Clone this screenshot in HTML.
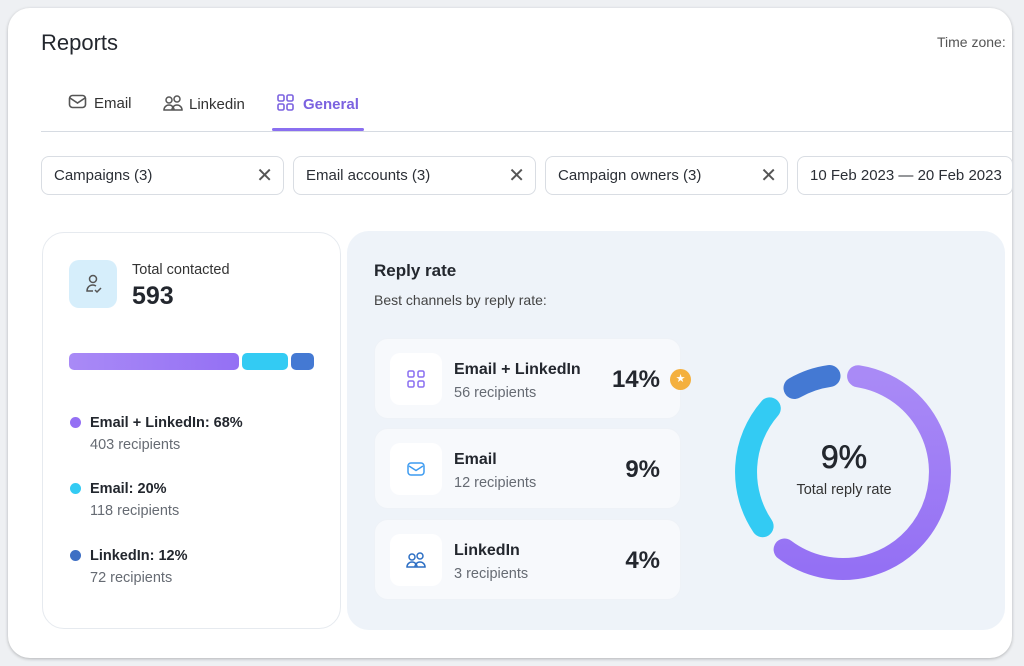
<!DOCTYPE html>
<html><head><meta charset="utf-8"><style>
*{margin:0;padding:0;box-sizing:border-box}
body{width:1024px;height:666px;background:#eef0f3;font-family:"Liberation Sans",sans-serif;color:#1f2328;position:relative;overflow:hidden}
.a{position:absolute}
.card{left:8px;top:8px;width:1004px;height:650px;background:#fff;border-radius:22px;box-shadow:0 1px 3px rgba(0,0,0,.25)}
.f{height:39px;top:156px;border:1px solid #d9dde3;border-radius:8px;font-size:15px;color:#2b2f36;padding:10px 12px;background:#fff}
.x{position:absolute;right:10px;top:6px;font-size:20px;color:#555}
.row{left:374px;width:307px;height:81px;background:#f7f9fc;border-radius:14px;border:1px solid #eef2f7}
.ib{position:absolute;left:15px;top:14px;width:52px;height:52px;background:#fff;border-radius:10px}
.t{position:absolute;left:79px;top:22px;font-size:16px;font-weight:bold;color:#23272e}
.s{position:absolute;left:79px;top:46px;font-size:14.5px;color:#666b73}
.p{position:absolute;right:20px;top:27px;font-size:24px;font-weight:bold;color:#23272e}
.lg{left:70px;font-size:14.5px}
.lg b{color:#23272e}
.lg span{display:block;margin-top:6px;color:#666b73;margin-left:20px}
.dot{display:inline-block;width:11px;height:11px;border-radius:50%;margin-right:9px;vertical-align:-1px}
</style></head><body>
<div class="a card"></div>
<div class="a" style="left:41px;top:30px;font-size:22px;color:#23272e">Reports</div>
<div class="a" style="left:937px;top:34px;font-size:14px;color:#555">Time zone:</div>
<div class="a" style="left:68px;top:94px;font-size:15px;color:#333">
<svg width="20" height="16" style="vertical-align:-2px;margin-right:6px"><rect x="1.5" y="1.5" width="16" height="12" rx="3" fill="none" stroke="#555" stroke-width="1.6"/><path d="M2 4l7.5 5 7.5-5" fill="none" stroke="#555" stroke-width="1.6"/></svg>Email</div>
<div class="a" style="left:163px;top:94px;font-size:15px;color:#333">
<svg width="20" height="18" style="vertical-align:-3px;margin-right:6px"><circle cx="6" cy="6" r="3" fill="none" stroke="#555" stroke-width="1.5"/><circle cx="14" cy="5" r="3" fill="none" stroke="#555" stroke-width="1.5"/><path d="M1 16a5 5 0 0 1 10 0zM9 16a5 5 0 0 1 10 0z" fill="none" stroke="#555" stroke-width="1.5"/></svg>Linkedin</div>
<div class="a" style="left:277px;top:94px;font-size:15px;color:#7b62e0;font-weight:bold">
<svg width="18" height="18" style="vertical-align:-3px;margin-right:8px" fill="none" stroke="#7b62e0" stroke-width="1.6"><rect x="1" y="1" width="6" height="6" rx="1.5"/><rect x="10" y="1" width="6" height="6" rx="1.5"/><rect x="1" y="10" width="6" height="6" rx="1.5"/><rect x="10" y="10" width="6" height="6" rx="1.5"/></svg>General</div>
<div class="a" style="left:41px;top:131px;width:971px;height:1px;background:#d6dbe2"></div>
<div class="a" style="left:272px;top:128px;width:92px;height:3px;background:#8a6ff0;border-radius:2px"></div>
<div class="a f" style="left:41px;width:243px">Campaigns (3)<span class="x">✕</span></div>
<div class="a f" style="left:293px;width:243px">Email accounts (3)<span class="x">✕</span></div>
<div class="a f" style="left:545px;width:243px">Campaign owners (3)<span class="x">✕</span></div>
<div class="a f" style="left:797px;width:216px;white-space:nowrap;overflow:hidden">10 Feb 2023 — 20 Feb 2023</div>

<div class="a" style="left:42px;top:232px;width:299px;height:397px;border:1px solid #e6eaef;border-radius:22px;background:#fff"></div>
<div class="a" style="left:69px;top:260px;width:48px;height:48px;border-radius:10px;background:#d6eefb">
<svg width="48" height="48" fill="none" stroke="#555" stroke-width="1.5"><circle cx="24" cy="19" r="3.5"/><path d="M27 26c-1-.6-2-1-3-1-4 0-6 3-6 6h6"/><path d="M26 30l2 2 4-4"/></svg></div>
<div class="a" style="left:132px;top:262px;font-size:14.5px;color:#333">Total contacted</div>
<div class="a" style="left:132px;top:282px;font-size:25px;font-weight:bold;color:#23272e">593</div>
<div class="a" style="left:69px;top:353px;width:170px;height:17px;border-radius:5px;background:linear-gradient(90deg,#a98af6,#9470f4)"></div>
<div class="a" style="left:242px;top:353px;width:46px;height:17px;border-radius:5px;background:#33cbf3"></div>
<div class="a" style="left:291px;top:353px;width:23px;height:17px;border-radius:5px;background:#4479d3"></div>
<div class="a lg" style="top:415px"><i class="dot" style="background:#9470f4"></i><b>Email + LinkedIn: 68%</b><span>403 recipients</span></div>
<div class="a lg" style="top:481px"><i class="dot" style="background:#33cbf3"></i><b>Email: 20%</b><span>118 recipients</span></div>
<div class="a lg" style="top:548px"><i class="dot" style="background:#3e6fc4"></i><b>LinkedIn: 12%</b><span>72 recipients</span></div>

<div class="a" style="left:347px;top:231px;width:658px;height:399px;border-radius:22px;background:#eef3f9"></div>
<div class="a" style="left:374px;top:261px;font-size:17px;font-weight:bold;color:#23272e">Reply rate</div>
<div class="a" style="left:374px;top:292px;font-size:14px;color:#444">Best channels by reply rate:</div>

<div class="a row" style="top:338px"><div class="ib"><svg width="52" height="52" fill="none" stroke="#8a6ff0" stroke-width="1.5"><rect x="18" y="18" width="6" height="6" rx="1.5"/><rect x="28" y="18" width="6" height="6" rx="1.5"/><rect x="18" y="28" width="6" height="6" rx="1.5"/><rect x="28" y="28" width="6" height="6" rx="1.5"/></svg></div><div class="t">Email + LinkedIn</div><div class="s">56 recipients</div><div class="p">14%</div></div>
<div class="a" style="left:670px;top:369px;width:21px;height:21px;border-radius:50%;background:#f4b03e;color:#fff;font-size:11px;text-align:center;line-height:21px">★</div>
<div class="a row" style="top:428px"><div class="ib"><svg width="52" height="52" fill="none" stroke="#3d9bf0" stroke-width="1.5"><rect x="18" y="20" width="16" height="12" rx="3"/><path d="M19 23l7 4.5 7-4.5"/></svg></div><div class="t">Email</div><div class="s">12 recipients</div><div class="p">9%</div></div>
<div class="a row" style="top:519px"><div class="ib"><svg width="52" height="52" fill="none" stroke="#2d6fc4" stroke-width="1.5"><circle cx="22" cy="23" r="3"/><circle cx="30" cy="22" r="3"/><path d="M17 33a5 5 0 0 1 10 0zM25 33a5 5 0 0 1 10 0z"/></svg></div><div class="t">LinkedIn</div><div class="s">3 recipients</div><div class="p">4%</div></div>

<svg class="a" style="left:0;top:0" width="1024" height="666">
<defs><linearGradient id="g" x1="0" y1="0" x2="0" y2="1"><stop offset="0" stop-color="#a98af6"/><stop offset="1" stop-color="#9470f4"/></linearGradient></defs>
<g fill="none" stroke-width="22" stroke-linecap="round">
<path d="M858.1 376.2 A97 97 0 1 1 784.6 549.5" stroke="url(#g)"/>
<path d="M762.6 526.2 A97 97 0 0 1 769.8 408.4" stroke="#33cbf3"/>
<path d="M794.5 388 A97 97 0 0 1 829.5 376" stroke="#4479d3"/>
</g>
<text x="844" y="468" text-anchor="middle" font-family="Liberation Sans" font-size="32" font-weight="500" fill="#23272e" stroke="#23272e" stroke-width="0.6">9%</text>
<text x="844" y="494" text-anchor="middle" font-family="Liberation Sans" font-size="14.5" fill="#333">Total reply rate</text>
</svg>
</body></html>
